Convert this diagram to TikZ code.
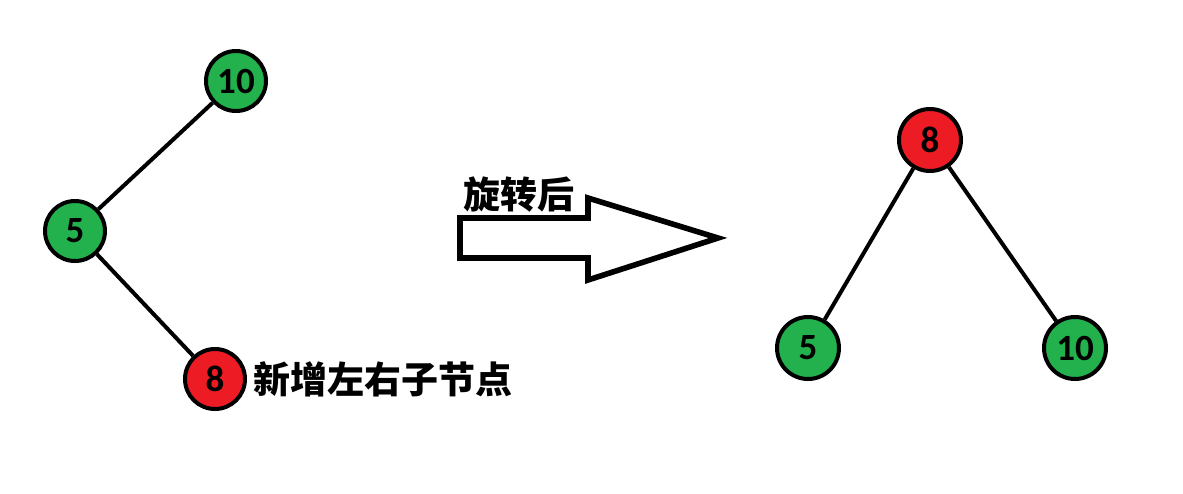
\documentclass[tikz,border=0pt]{standalone}
\usepackage{fontspec}
\setmainfont{Carlito}
\newfontfamily\cjk{Noto Sans CJK SC}
\usetikzlibrary{positioning}
\definecolor{nodegreen}{RGB}{34,177,76}
\definecolor{nodered}{RGB}{237,28,36}

\begin{document}
\begin{tikzpicture}[x=0.5pt,y=-0.5pt,
  treenode/.style={circle,draw,line width=2pt,minimum size=30pt,inner sep=0pt,
    font=\bfseries\fontsize{18.5}{18.5}\selectfont},
  greennode/.style={treenode,fill=nodegreen},
  rednode/.style={treenode,fill=nodered},
  edge/.style={line width=2pt},
  note/.style={font=\cjk\bfseries\fontsize{18.5}{20}\selectfont,inner sep=0pt}]
\fill[white] (0,0) rectangle (1183,493);
\useasboundingbox (0,0) rectangle (1183,493);
% Before the rotation: 10 -> 5 -> 8.
\node[greennode] (l10) at (236,81) {10};
\node[greennode] (l5) at (75,231) {5};
\node[rednode] (l8) at (215,379) {8};
\node[note,right=3pt of l8] (addnote) {新增左右子节点};
\draw[edge] (l10) -- (l5);
\draw[edge] (l5) -- (l8);
% The block arrow between the two trees.
\draw[line width=2.8pt,line join=miter]
  (460,218) -- (588,218) -- (588,198) -- (718,238) -- (588,280)
  -- (588,258) -- (460,258) -- cycle;
\node[note,anchor=west] (rotnote) at (463,195) {旋转后};
% After the rotation: 8 is the root.
\node[rednode,minimum size=31pt] (r8) at (930,140) {8};
\node[greennode,minimum size=31pt] (r5) at (808,348) {5};
\node[greennode,minimum size=31pt] (r10) at (1075,348) {10};
\draw[edge] (r8) -- (r5);
\draw[edge] (r8) -- (r10);
\end{tikzpicture}
\end{document}
